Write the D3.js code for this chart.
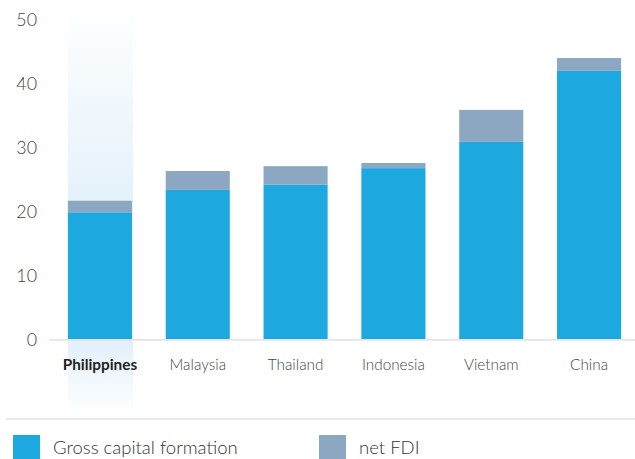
<!DOCTYPE html>
<html><head><meta charset="utf-8">
<script src="https://cdn.jsdelivr.net/npm/d3@7"></script>
<style>html,body{margin:0;padding:0;background:#fff}svg{display:block;font-family:Lato,"Noto Sans",sans-serif}</style>
</head><body>
<svg id="c" width="635" height="459"></svg>
<script>
const categories = ["Philippines","Malaysia","Thailand","Indonesia","Vietnam","China"];
const grossCapital = [19.8, 23.3, 24.1, 26.7, 30.8, 41.9];
const netFDI = [1.8, 2.95, 2.9, 0.8, 5.0, 2.0];
const yTicks = [0,10,20,30,40,50];
const seriesNames = ["Gross capital formation","net FDI"];
const highlighted = "Philippines";

const colors = ["#1ea8e0","#8ca7c2"];
const svg = d3.select("#c");
const x = d3.scaleBand().domain(categories).range([51,638]).paddingInner(0.345).paddingOuter(0.1725);
const y = d3.scaleLinear().domain([0,50]).range([339,19]);

const defs = svg.append("defs");
const g = defs.append("linearGradient").attr("id","hl").attr("x1",0).attr("x2",0).attr("y1",0).attr("y2",1);
g.append("stop").attr("offset","0%").attr("stop-color","#dcedf9").attr("stop-opacity",0);
g.append("stop").attr("offset","55%").attr("stop-color","#dcedf9").attr("stop-opacity",0.85);
g.append("stop").attr("offset","82%").attr("stop-color","#dcedf9").attr("stop-opacity",0.85);
g.append("stop").attr("offset","100%").attr("stop-color","#dcedf9").attr("stop-opacity",0);

svg.append("rect").attr("x",x(highlighted)).attr("y",0).attr("width",x.bandwidth()+1).attr("height",415).attr("fill","url(#hl)");

const data = categories.map((c,i)=>({c, a:grossCapital[i], b:netFDI[i]}));
svg.selectAll("rect.a").data(data).enter().append("rect").attr("class","a")
  .attr("x",d=>x(d.c)).attr("width",x.bandwidth()).attr("y",d=>y(d.a)).attr("height",d=>y(0)-y(d.a)).attr("fill",colors[0]);
svg.selectAll("rect.b").data(data).enter().append("rect").attr("class","b")
  .attr("x",d=>x(d.c)).attr("width",x.bandwidth()).attr("y",d=>y(d.a+d.b)).attr("height",d=>y(d.a)-y(d.a+d.b)).attr("fill",colors[1]);

// baseline
svg.append("line").attr("x1",49).attr("x2",635).attr("y1",y(0)+0.8).attr("y2",y(0)+0.8).attr("stroke","#e4e4e4").attr("stroke-width",1.7);

// y axis
const ya = svg.append("g").attr("transform","translate(37,0)").call(d3.axisLeft(y).tickValues(yTicks).tickSize(0).tickPadding(0));
ya.select(".domain").remove();
ya.selectAll("text").attr("font-family","Lato").attr("font-size",17.8).attr("font-weight",300).attr("fill","#444").attr("dy","0.35em");

// x axis
const xa = svg.append("g").attr("transform","translate(0,340)").call(d3.axisBottom(x).tickSize(0).tickPadding(0));
xa.select(".domain").remove();
xa.selectAll("text").attr("font-family","Lato").attr("font-size",15.3).attr("dy",null).attr("y",29.5)
  .attr("fill",d=>d===highlighted?"#222":"#444").attr("font-weight",d=>d===highlighted?"bold":300);

// separator
svg.append("line").attr("x1",6).attr("x2",635).attr("y1",419).attr("y2",419).attr("stroke","#e8e8e8").attr("stroke-width",2);

// legend
const lx = [13,319];
seriesNames.forEach((n,i)=>{
  svg.append("rect").attr("x",lx[i]).attr("y",435).attr("width",27).attr("height",24).attr("fill",colors[i]);
  svg.append("text").attr("x",lx[i]+40).attr("y",454).attr("font-family","Lato").attr("font-size",18.5).attr("font-weight",300).attr("fill","#333").text(n);
});
</script>
</body></html>
